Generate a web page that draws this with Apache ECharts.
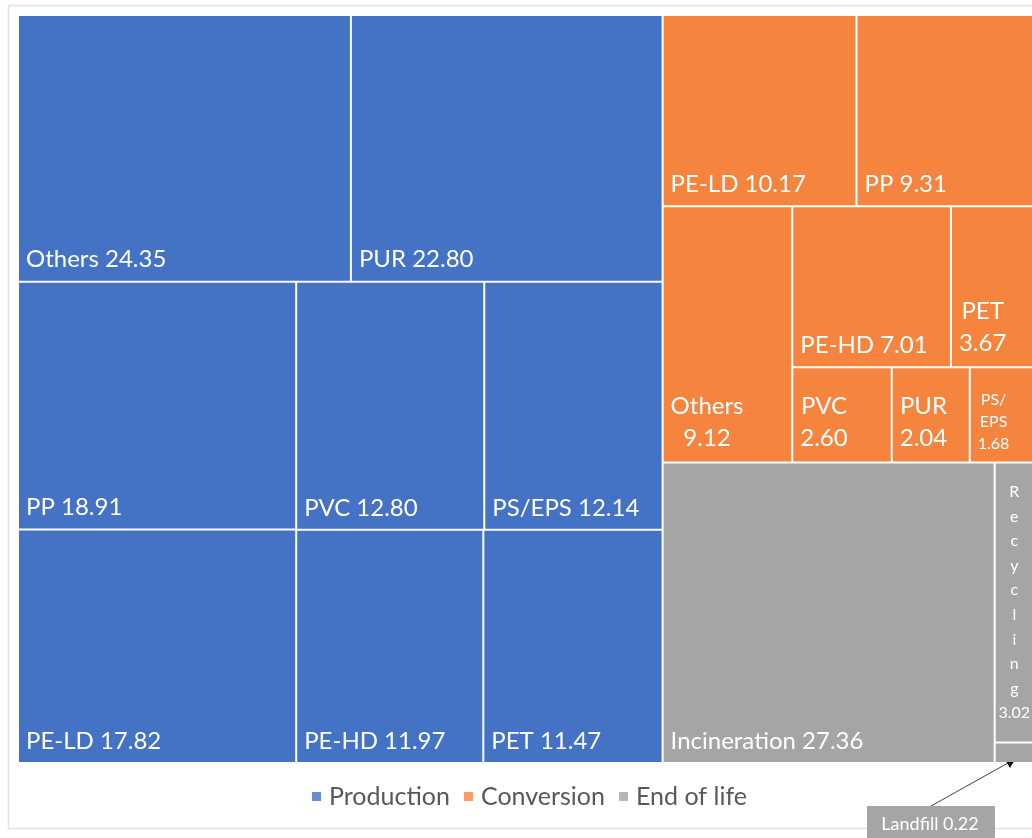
<!DOCTYPE html>
<html>
<head>
<meta charset="utf-8">
<script src="https://cdn.jsdelivr.net/npm/echarts@6/dist/echarts.min.js"></script>
<style>
  html, body { margin: 0; background: #fff; }
  #chart { width: 1032px; height: 838px; }
</style>
</head>
<body>
<div id="chart"></div>
<script>
// groups of the life cycle
const groupNames = ['Production', 'Conversion', 'End of life'];
const groupColors = ['#4472C4', '#F5843F', '#A5A5A5'];

// Production
const prodNames = ['Others', 'PUR', 'PP', 'PE-LD', 'PVC', 'PS/EPS', 'PE-HD', 'PET'];
const prodValues = [24.35, 22.80, 18.91, 17.82, 12.80, 12.14, 11.97, 11.47];

// Conversion
const convNames = ['PE-LD', 'PP', 'Others', 'PE-HD', 'PET', 'PVC', 'PUR', 'PS/EPS'];
const convValues = [10.17, 9.31, 9.12, 7.01, 3.67, 2.60, 2.04, 1.68];

// End of life
const eolNames = ['Incineration', 'Recycling', 'Landfill'];
const eolValues = [27.36, 3.02, 0.22];

const FONT = 'Lato';
const BIG = 24;
const SMALL = 16;

const ctx = document.createElement('canvas').getContext('2d');
const textWidth = (s, size) => {
  ctx.font = size + 'px ' + FONT;
  return ctx.measureText(s).width;
};

// lines stacked and centred under each other, block kept at the left
const stackedLabel = (lines, size, lh) => {
  const w = Math.max(...lines.map(l => textWidth(l, size)));
  return {
    formatter: lines.join('\n'),
    position: [7 + w / 2, '100%'],
    offset: [0, -7],
    padding: 0,
    align: 'center',
    verticalAlign: 'bottom',
    fontSize: size,
    lineHeight: lh
  };
};

const labelFor = (group, name, value) => {
  const v = value.toFixed(2);
  if (group === 'Conversion' && name === 'PS/EPS') {
    return stackedLabel(['PS/', 'EPS', v], SMALL, 22);
  }
  if (group === 'Conversion' && ['Others', 'PVC', 'PUR', 'PET'].includes(name)) {
    return stackedLabel([name, v], BIG, 32);
  }
  if (name === 'Recycling') {
    return {
      formatter: name.split('').concat([v]).join('\n'),
      position: 'inside',
      align: 'center',
      verticalAlign: 'middle',
      padding: 0,
      fontSize: SMALL,
      lineHeight: 24.6
    };
  }
  if (name === 'Landfill') {
    return { show: false };
  }
  return { formatter: name + ' ' + v };
};

const buildGroup = (i, names, values) => ({
  name: groupNames[i],
  itemStyle: { color: groupColors[i] },
  children: names.map((n, k) => ({
    name: n,
    value: values[k],
    label: labelFor(groupNames[i], n, values[k])
  }))
});

const treeData = [
  buildGroup(0, prodNames, prodValues),
  buildGroup(1, convNames, convValues),
  buildGroup(2, eolNames, eolValues)
];

const myChart = echarts.init(document.getElementById('chart'));

const option = {
  animation: false,
  textStyle: { fontFamily: FONT },
  legend: {
    bottom: 24,
    left: 307,
    selectedMode: false,
    icon: 'rect',
    itemWidth: 9,
    itemHeight: 9,
    itemGap: 14,
    textStyle: { color: '#595959', fontSize: 25, fontFamily: FONT, padding: [0, 0, 0, 3] },
    data: groupNames
  },
  grid: { show: false, left: 0, top: 0, width: 1, height: 1 },
  xAxis: { show: false },
  yAxis: { show: false },
  graphic: [
    {
      // chart frame
      type: 'rect',
      z: -1,
      shape: { x: 8.5, y: 5.5, width: 1100, height: 823 },
      style: { fill: 'none', stroke: '#E3E3E3', lineWidth: 1.5 }
    },
    {
      type: 'line',
      shape: { x1: 931, y1: 806, x2: 1008, y2: 763 },
      style: { stroke: '#404040', lineWidth: 1 }
    },
    {
      type: 'polygon',
      shape: { points: [[1016, 758], [1004, 758], [1010, 768]] },
      style: { fill: '#111' }
    },
    {
      type: 'rect',
      shape: { x: 867, y: 806, width: 128, height: 40 },
      style: { fill: groupColors[2] }
    },
    {
      type: 'text',
      x: 930,
      y: 824,
      style: {
        text: eolNames[2] + ' ' + eolValues[2].toFixed(2),
        fill: '#fff',
        font: '18px ' + FONT,
        align: 'center',
        verticalAlign: 'middle'
      }
    }
  ],
  series: [
    {
      type: 'treemap',
      left: 19,
      top: 16,
      width: 1014,
      height: 746,
      roam: false,
      nodeClick: false,
      squareRatio: 1,
      breadcrumb: { show: false },
      label: {
        show: true,
        position: 'insideBottomLeft',
        distance: 7,
        padding: [0, 0, 2, 0],
        color: '#fff',
        fontSize: BIG,
        fontFamily: FONT,
        overflow: 'none'
      },
      upperLabel: { show: false },
      levels: [
        { itemStyle: { gapWidth: 2, borderWidth: 0 } },
        { itemStyle: { gapWidth: 2, borderWidth: 0 } },
        { itemStyle: { borderWidth: 0 } }
      ],
      data: treeData
    },
    // empty series only to feed the legend
    { type: 'scatter', name: groupNames[0], data: [], itemStyle: { color: groupColors[0] } },
    { type: 'scatter', name: groupNames[1], data: [], itemStyle: { color: groupColors[1] } },
    { type: 'scatter', name: groupNames[2], data: [], itemStyle: { color: groupColors[2] } }
  ]
};

myChart.setOption(option);
</script>
</body>
</html>
